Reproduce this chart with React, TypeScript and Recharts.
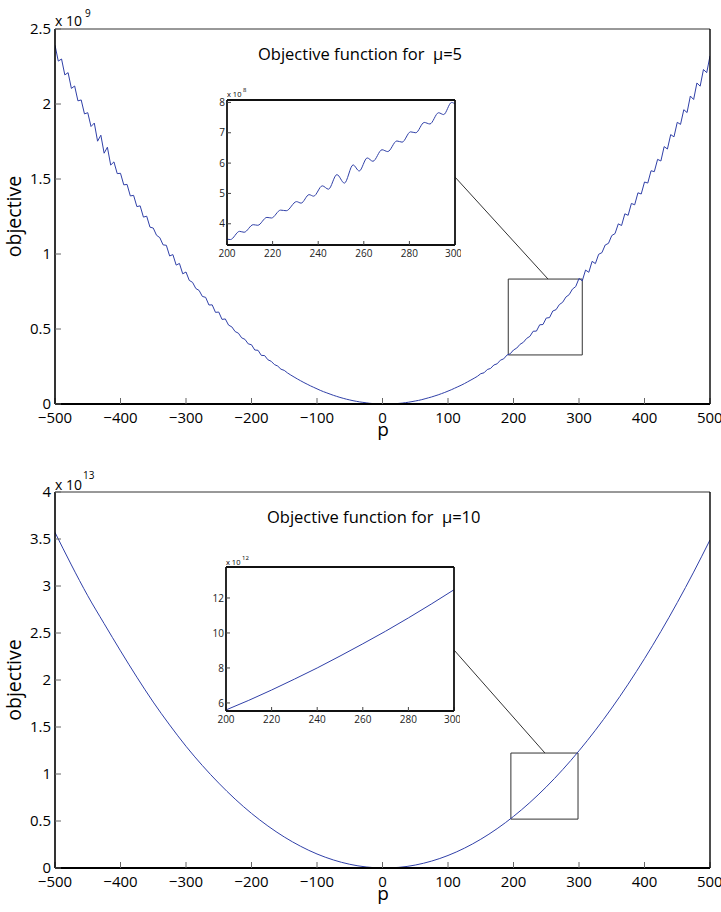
import { Line, LineChart, ReferenceArea, ReferenceLine, XAxis, YAxis } from 'recharts'

// ---- data ----
const X_TICKS = [-500, -400, -300, -200, -100, 0, 100, 200, 300, 400, 500]
const Y_TICKS_MU5 = [0, 0.5, 1, 1.5, 2, 2.5]
const Y_TICKS_MU10 = [0, 0.5, 1, 1.5, 2, 2.5, 3, 3.5, 4]
const ZOOM_X_TICKS = [200, 220, 240, 260, 280, 300]
const ZOOM_Y_TICKS_MU5 = [4, 5, 6, 7, 8]
const ZOOM_Y_TICKS_MU10 = [6, 8, 10, 12]

// p grid for the mu=5 curve
const P_MU5 = [
  -500, -495, -490, -485, -480, -475, -470, -465, -460, -455,
  -450, -445, -440, -435, -430, -425, -420, -415, -410, -405,
  -400, -395, -390, -385, -380, -375, -370, -365, -360, -355,
  -350, -345, -340, -335, -330, -325, -320, -315, -310, -305,
  -300, -295, -290, -285, -280, -275, -270, -265, -260, -255,
  -250, -245, -240, -235, -230, -225, -220, -215, -210, -205,
  -200, -195, -190, -185, -180, -175, -170, -165, -160, -155,
  -150, -145, -140, -135, -130, -125, -120, -115, -110, -105,
  -100, -95, -90, -85, -80, -75, -70, -65, -60, -55,
  -50, -45, -40, -35, -30, -25, -20, -15, -10, -5,
  0, 5, 10, 15, 20, 25, 30, 35, 40, 45,
  50, 55, 60, 65, 70, 75, 80, 85, 90, 95,
  100, 105, 110, 115, 120, 125, 130, 135, 140, 145,
  150, 155, 160, 165, 170, 175, 180, 185, 190, 195,
  200, 205, 210, 215, 220, 225, 230, 235, 240, 245,
  250, 255, 260, 265, 270, 275, 280, 285, 290, 295,
  300, 305, 310, 315, 320, 325, 330, 335, 340, 345,
  350, 355, 360, 365, 370, 375, 380, 385, 390, 395,
  400, 405, 410, 415, 420, 425, 430, 435, 440, 445,
  450, 455, 460, 465, 470, 475, 480, 485, 490, 495,
  500,
]

// objective for mu=5, units of 1e9
const OBJ_MU5 = [
  2.392, 2.286, 2.3, 2.194, 2.209, 2.104, 2.12, 2.021, 2.027, 1.934,
  1.942, 1.85, 1.873, 1.752, 1.792, 1.672, 1.712, 1.593, 1.614, 1.536,
  1.538, 1.461, 1.464, 1.387, 1.391, 1.316, 1.321, 1.246, 1.252, 1.179,
  1.173, 1.125, 1.109, 1.061, 1.058, 0.987, 0.996, 0.926, 0.937, 0.868,
  0.88, 0.824, 0.811, 0.77, 0.757, 0.717, 0.711, 0.66, 0.661, 0.611,
  0.613, 0.564, 0.567, 0.526, 0.514, 0.483, 0.472, 0.441, 0.431, 0.401,
  0.395, 0.36, 0.358, 0.324, 0.323, 0.295, 0.285, 0.263, 0.253, 0.232,
  0.224, 0.207, 0.193, 0.18, 0.167, 0.155, 0.143, 0.132, 0.121, 0.111,
  0.101, 0.091, 0.082, 0.074, 0.066, 0.058, 0.051, 0.044, 0.038, 0.032,
  0.027, 0.022, 0.018, 0.014, 0.011, 0.008, 0.005, 0.003, 0.002, 0.001,
  0.0, 0.0, 0.0, 0.001, 0.002, 0.004, 0.006, 0.009, 0.012, 0.016,
  0.02, 0.024, 0.029, 0.035, 0.041, 0.047, 0.054, 0.061, 0.069, 0.077,
  0.086, 0.095, 0.105, 0.115, 0.125, 0.136, 0.148, 0.16, 0.172, 0.185,
  0.202, 0.208, 0.23, 0.237, 0.26, 0.268, 0.292, 0.301, 0.326, 0.335,
  0.36, 0.373, 0.398, 0.411, 0.437, 0.451, 0.485, 0.486, 0.528, 0.53,
  0.573, 0.576, 0.62, 0.629, 0.663, 0.678, 0.713, 0.729, 0.766, 0.783,
  0.837, 0.821, 0.893, 0.878, 0.951, 0.936, 0.998, 1.009, 1.06, 1.071,
  1.123, 1.136, 1.201, 1.19, 1.268, 1.258, 1.337, 1.328, 1.408, 1.4,
  1.48, 1.473, 1.555, 1.549, 1.631, 1.62, 1.716, 1.7, 1.796, 1.781,
  1.878, 1.864, 1.962, 1.943, 2.053, 2.03, 2.14, 2.119, 2.23, 2.209,
  2.321,
]

// zoom on 200..300 for mu=5 (peaks and troughs), units of 1e8
const P_ZOOM_MU5 = [
  200, 201.5, 205.5, 207.5, 211.5, 213.5, 217.5, 219.5, 223.5, 226,
  230.5, 232.5, 236, 238, 241.8, 244.5, 248.2, 251.5, 255.3, 258,
  261.5, 264, 268, 270.5, 274.5, 276.8, 280.5, 282.8, 286.5, 289,
  292.8, 295, 298.5, 300,
]
const OBJ_ZOOM_MU5 = [
  3.49, 3.48, 3.75, 3.72, 3.97, 3.95, 4.21, 4.19, 4.45, 4.43,
  4.73, 4.68, 4.96, 4.91, 5.25, 5.14, 5.62, 5.34, 5.94, 5.74,
  6.17, 6.06, 6.44, 6.38, 6.73, 6.69, 7.03, 7.0, 7.34, 7.29,
  7.66, 7.6, 8.0, 7.95,
]

// objective for mu=10, units of 1e13
const P_MU10 = [
  -500, -475, -450, -425, -400, -375, -350, -325, -300, -275, -250,
  -225, -200, -175, -150, -125, -100, -75, -50, -25, 0,
  25, 50, 75, 100, 125, 150, 175, 200, 225, 250,
  275, 300, 325, 350, 375, 400, 425, 450, 475, 500,
]
const OBJ_MU10 = [
  3.57, 3.224, 2.896, 2.6, 2.31, 2.03, 1.765, 1.522, 1.295, 1.09, 0.903,
  0.733, 0.581, 0.447, 0.33, 0.231, 0.149, 0.0856, 0.0394, 0.011, 0.0001,
  0.0069, 0.0314, 0.0735, 0.1333, 0.2107, 0.3057, 0.4185, 0.5488, 0.6968, 0.8625,
  1.0458, 1.2468, 1.4654, 1.7016, 1.9556, 2.2271, 2.5163, 2.8232, 3.1477, 3.49,
]

// zoom on 200..300 for mu=10, units of 1e12
const P_ZOOM_MU10 = [200, 210, 220, 230, 240, 250, 260, 270, 280, 290, 300]
const OBJ_ZOOM_MU10 = [5.6, 6.15, 6.74, 7.36, 8.0, 8.68, 9.38, 10.1, 10.86, 11.65, 12.47]

// ---- drawing ----
const FONT = '"Open Sans", "DejaVu Sans", sans-serif'
const CURVE = '#3040a8'

interface Pt {
  p: number
  v: number
}

const zip = (xs: number[], ys: number[]): Pt[] => xs.map((p, i) => ({ p, v: ys[i] }))
const minus = (v: number) => (v < 0 ? `\u2212${Math.abs(v)}` : `${v}`)

interface TxtProps {
  x: number
  base: number
  size: number
  center?: boolean
  children: string
}

// html text placed by its baseline
function Txt({ x, base, size, center, children }: TxtProps) {
  return (
    <div
      style={{
        position: 'absolute',
        left: x,
        top: base - 0.888 * size,
        transform: center ? 'translateX(-50%)' : undefined,
        fontSize: size,
        lineHeight: 1,
        fontFamily: FONT,
        whiteSpace: 'pre',
        color: '#000',
      }}
    >
      {children}
    </div>
  )
}

interface MainProps {
  top: number
  height: number
  data: Pt[]
  yTicks: number[]
  yMax: number
  curve: 'linear' | 'monotone'
  box: [number, number, number, number]
  link: [number, number, number, number]
}

function MainPanel({ top, height, data, yTicks, yMax, curve, box, link }: MainProps) {
  const tickStyle = { fill: '#000', fontSize: 15, fontFamily: FONT }
  return (
    <div style={{ position: 'absolute', left: 0, top }}>
      <LineChart width={721} height={height} data={data} margin={{ top: 28, right: 10, bottom: 0, left: 0 }}>
        <XAxis
          xAxisId="b"
          dataKey="p"
          type="number"
          domain={[-500, 500]}
          ticks={X_TICKS}
          allowDataOverflow
          height={40}
          tickSize={-6}
          tickMargin={14}
          tick={tickStyle}
          tickFormatter={minus}
          axisLine={{ stroke: '#000', strokeWidth: 2 }}
          tickLine={{ stroke: '#666' }}
        />
        <XAxis
          xAxisId="t"
          orientation="top"
          type="number"
          domain={[-500, 500]}
          ticks={X_TICKS}
          allowDataOverflow
          height={1}
          tick={false}
          tickSize={-6}
          axisLine={{ stroke: '#333' }}
          tickLine={{ stroke: '#666' }}
        />
        <YAxis
          yAxisId="l"
          type="number"
          domain={[0, yMax]}
          ticks={yTicks}
          allowDataOverflow
          width={55}
          tickSize={-6}
          tickMargin={10}
          tick={tickStyle}
          axisLine={{ stroke: '#000', strokeWidth: 1.6 }}
          tickLine={{ stroke: '#666' }}
          label={{
            value: 'objective',
            angle: -90,
            position: 'insideLeft',
            offset: 14,
            fill: '#000',
            fontSize: 19.5,
            fontFamily: FONT,
            style: { textAnchor: 'middle' },
          }}
        />
        <YAxis
          yAxisId="r"
          orientation="right"
          type="number"
          domain={[0, yMax]}
          ticks={yTicks}
          allowDataOverflow
          width={1}
          tick={false}
          tickSize={-6}
          axisLine={{ stroke: '#000', strokeWidth: 1.4 }}
          tickLine={{ stroke: '#666' }}
        />
        <ReferenceArea
          xAxisId="b"
          yAxisId="l"
          x1={box[0]}
          x2={box[1]}
          y1={box[2]}
          y2={box[3]}
          fill="none"
          fillOpacity={0}
          stroke="#333"
          strokeWidth={1}
        />
        <ReferenceLine
          xAxisId="b"
          yAxisId="l"
          segment={[
            { x: link[0], y: link[1] },
            { x: link[2], y: link[3] },
          ]}
          stroke="#333"
          strokeWidth={1}
        />
        <Line
          xAxisId="b"
          yAxisId="l"
          dataKey="v"
          type={curve}
          stroke={CURVE}
          strokeWidth={1}
          dot={false}
          isAnimationActive={false}
        />
      </LineChart>
    </div>
  )
}

interface InsetProps {
  left: number
  top: number
  plotH: number
  data: Pt[]
  yDomain: [number, number]
  yTicks: number[]
  curve: 'linear' | 'monotone'
}

function InsetPanel({ left, top, plotH, data, yDomain, yTicks, curve }: InsetProps) {
  const tickStyle = { fill: '#222', fontSize: 10, fontFamily: FONT }
  const frame = { stroke: '#111', strokeWidth: 1.8 }
  return (
    <div style={{ position: 'absolute', left, top }}>
      <LineChart width={40 + 228 + 6} height={15 + plotH + 22} data={data} margin={{ top: 14, right: 5, bottom: 0, left: 0 }}>
        <XAxis
          xAxisId="b"
          dataKey="p"
          type="number"
          domain={[200, 300]}
          ticks={ZOOM_X_TICKS}
          allowDataOverflow
          height={22}
          tickSize={-4}
          tickMargin={9}
          tick={tickStyle}
          axisLine={frame}
          tickLine={{ stroke: '#444' }}
        />
        <XAxis
          xAxisId="t"
          orientation="top"
          type="number"
          domain={[200, 300]}
          ticks={ZOOM_X_TICKS}
          allowDataOverflow
          height={1}
          tick={false}
          tickSize={-4}
          axisLine={frame}
          tickLine={{ stroke: '#444' }}
        />
        <YAxis
          yAxisId="l"
          type="number"
          domain={yDomain}
          ticks={yTicks}
          allowDataOverflow
          width={40}
          tickSize={-4}
          tickMargin={6}
          tick={tickStyle}
          axisLine={frame}
          tickLine={{ stroke: '#444' }}
        />
        <YAxis
          yAxisId="r"
          orientation="right"
          type="number"
          domain={yDomain}
          ticks={yTicks}
          allowDataOverflow
          width={1}
          tick={false}
          tickSize={-4}
          axisLine={frame}
          tickLine={{ stroke: '#444' }}
        />
        <Line
          xAxisId="b"
          yAxisId="l"
          dataKey="v"
          type={curve}
          stroke={CURVE}
          strokeWidth={1}
          dot={false}
          isAnimationActive={false}
        />
      </LineChart>
    </div>
  )
}

export default function App() {
  return (
    <div style={{ position: 'absolute', left: 0, top: 0, width: 721, height: 912, background: '#fff' }}>
      <MainPanel
        top={0}
        height={444}
        data={zip(P_MU5, OBJ_MU5)}
        yTicks={Y_TICKS_MU5}
        yMax={2.5}
        curve="linear"
        box={[192, 305, 0.327, 0.833]}
        link={[110.7, 1.513, 252.7, 0.833]}
      />
      <InsetPanel
        left={187}
        top={85}
        plotH={145}
        data={zip(P_ZOOM_MU5, OBJ_ZOOM_MU5)}
        yDomain={[3.3, 8.08]}
        yTicks={ZOOM_Y_TICKS_MU5}
        curve="monotone"
      />
      <Txt x={55} base={26} size={14}>x 10</Txt>
      <Txt x={85} base={17} size={10}>9</Txt>
      <Txt x={258} base={61} size={16.5}>{'Objective function for  \u03bc=5'}</Txt>
      <Txt x={227} base={98} size={7.5}>x 10</Txt>
      <Txt x={243} base={92} size={6}>8</Txt>
      <Txt x={383} base={437} size={19} center>p</Txt>

      <MainPanel
        top={463}
        height={445}
        data={zip(P_MU10, OBJ_MU10)}
        yTicks={Y_TICKS_MU10}
        yMax={4}
        curve="monotone"
        box={[196, 298.5, 0.52, 1.223]}
        link={[109.2, 2.319, 248, 1.223]}
      />
      <InsetPanel
        left={186}
        top={552}
        plotH={144}
        data={zip(P_ZOOM_MU10, OBJ_ZOOM_MU10)}
        yDomain={[5.54, 13.77]}
        yTicks={ZOOM_Y_TICKS_MU10}
        curve="monotone"
      />
      <Txt x={55} base={490} size={14}>x 10</Txt>
      <Txt x={83} base={479} size={10}>13</Txt>
      <Txt x={267} base={524} size={16.5}>{'Objective function for  \u03bc=10'}</Txt>
      <Txt x={226} base={566} size={7.5}>x 10</Txt>
      <Txt x={242} base={560} size={6}>12</Txt>
      <Txt x={383} base={901} size={19} center>p</Txt>
    </div>
  )
}
